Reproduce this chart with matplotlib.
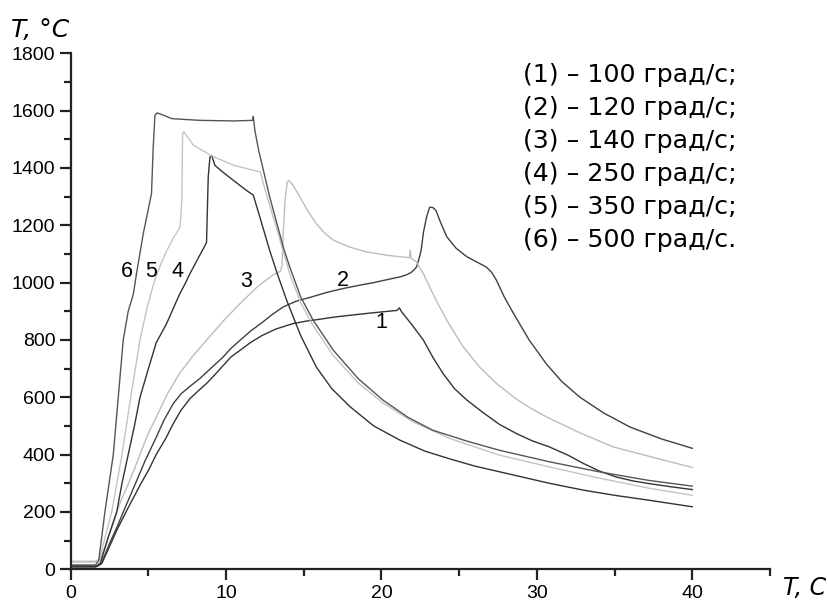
import matplotlib.pyplot as plt
from matplotlib.ticker import MultipleLocator

# curve data: time (s), temperature (deg C)
t1 = [0, 1.7, 2.0, 2.5, 3.0, 3.7, 4.5, 5.0, 5.5, 6.1, 6.6, 7.1, 7.67, 8.2, 8.74, 9.3, 9.8, 10.3, 10.9,
      11.6, 12.3, 13.2, 14.3, 15.2, 16.0, 17.0, 17.96, 19.5, 21.0, 21.15, 21.3, 22.0, 22.7, 23.3, 23.96,
      24.7, 25.5, 26.5, 27.6, 28.7, 29.7, 30.8, 32.0, 33.0, 34.0, 35.1, 36.2, 37.2, 38.6, 40.0]
T1 = [10, 10, 20, 80, 140, 215, 297, 345, 400, 455, 508, 555, 595, 622, 648, 680, 710, 740, 764,
      792, 815, 838, 857, 866, 872, 880, 886, 895, 903, 912, 898, 850, 799, 740, 683,
      630, 590, 548, 505, 473, 448, 427, 398, 369, 343, 322, 308, 299, 288, 278]

t2 = [0, 1.7, 2.0, 2.5, 3.0, 3.5, 4.15, 4.8, 5.5, 6.0, 6.6, 7.1, 7.6, 8.3, 9.0, 9.8, 10.3, 10.9, 11.6,
      12.3, 13.0, 13.67, 14.5, 15.5, 16.5, 17.5, 18.5, 19.5, 20.5, 21.2, 21.6, 21.9, 22.1, 22.25, 22.4,
      22.55, 22.7, 22.9, 23.1, 23.3, 23.5, 23.8, 24.2, 24.8, 25.5, 26.2, 26.75, 27.1, 27.4, 27.9, 28.5,
      29.5, 30.6, 31.6, 32.75, 34.3, 36.0, 38.0, 40.0]
T2 = [12, 12, 25, 90, 150, 215, 297, 380, 460, 520, 578, 612, 635, 665, 700, 740, 770, 799, 832,
      860, 890, 915, 935, 950, 966, 979, 990, 1000, 1012, 1020, 1027, 1035, 1045, 1054, 1080,
      1113, 1175, 1229, 1263, 1262, 1252, 1210, 1160, 1120, 1090, 1070, 1054, 1035, 1008, 950, 892,
      800, 717, 655, 601, 545, 496, 455, 422]

t3 = [0, 1.6, 1.9, 2.3, 2.8, 3.2, 3.7, 4.1, 4.6, 5.0, 5.5, 6.2, 7.0, 7.8, 8.74, 9.8, 10.9, 12.0, 13.0,
      13.5, 13.6, 13.67, 13.8, 13.93, 14.06, 14.3, 14.75, 15.2, 15.8, 16.3, 16.9, 17.9, 19.0, 20.4,
      21.8, 21.85, 21.9, 22.25, 22.7, 23.1, 23.6, 24.2, 25.2, 26.3, 27.4, 28.5, 29.5, 30.6, 32.8, 34.9,
      37.5, 40.0]
T3 = [28, 28, 35, 90, 170, 235, 297, 350, 420, 475, 530, 610, 683, 740, 799, 865, 927, 985, 1026,
      1040, 1060, 1171, 1290, 1351, 1356, 1340, 1299, 1255, 1206, 1175, 1148, 1125, 1107, 1095,
      1087, 1113, 1085, 1072, 1030, 985, 930, 869, 780, 706, 648, 601, 565, 532, 475, 427,
      390, 355]

t4 = [0, 1.6, 1.9, 2.4, 2.96, 3.3, 3.7, 4.1, 4.46, 5.0, 5.5, 5.8, 6.17, 6.6, 7.03, 7.4, 7.67, 8.2, 8.6,
      8.74, 8.85, 8.96, 9.07, 9.28, 9.8, 10.46, 11.3, 11.75, 12.17, 12.8, 13.3, 13.9, 14.8, 15.8, 16.8,
      18.0, 19.5, 21.2, 22.8, 24.4, 26.0, 27.6, 30.8, 33.0, 35.0, 37.2, 40.0]
T4 = [8, 8, 20, 110, 200, 300, 400, 500, 600, 700, 790, 820, 857, 910, 962, 1000, 1031, 1085, 1125,
      1140, 1369, 1438, 1444, 1409, 1385, 1357, 1322, 1305, 1229, 1113, 1030, 938, 815, 706, 630,
      566, 500, 450, 412, 385, 360, 340, 300, 276, 258, 241, 218]

t5 = [0, 1.6, 1.85, 2.2, 2.64, 3.3, 3.86, 4.46, 4.9, 5.36, 5.8, 6.17, 6.6, 7.04, 7.15, 7.2, 7.28, 7.9,
      9.0, 10.5, 12.2, 12.4, 12.8, 13.3, 14.1, 14.8, 15.6, 16.9, 18.5, 20.1, 22.0, 24.4, 27.6, 30.8,
      34.0, 37.2, 40.0]
T5 = [25, 25, 35, 110, 200, 400, 600, 800, 910, 1000, 1065, 1110, 1155, 1194, 1287, 1520, 1526, 1479,
      1444, 1409, 1386, 1345, 1270, 1180, 1030, 930, 850, 745, 650, 580, 515, 456, 398, 357,
      318, 283, 258]

t6 = [0, 1.6, 1.8, 2.2, 2.74, 3.06, 3.38, 3.7, 4.03, 4.26, 4.67, 5.2, 5.3, 5.42, 5.57, 5.96, 6.5, 8.3,
      10.5, 11.7, 11.75, 11.85, 12.1, 12.4, 12.8, 13.3, 13.7, 14.1, 14.8, 15.6, 16.9, 18.5, 20.1, 21.7,
      23.3, 25.5, 27.6, 30.8, 34.0, 37.2, 40.0]
T6 = [15, 15, 30, 200, 400, 600, 800, 900, 960, 1040, 1171, 1311, 1461, 1584, 1592, 1584, 1572, 1566,
      1564, 1566, 1580, 1531, 1460, 1392, 1300, 1200, 1120, 1054, 950, 869, 764, 665, 590, 530,
      485, 447, 415, 375, 340, 310, 290]

legend_lines = ['(1) – 100 град/с;', '(2) – 120 град/с;', '(3) – 140 град/с;',
                '(4) – 250 град/с;', '(5) – 350 град/с;', '(6) – 500 град/с.']

fig = plt.figure(figsize=(8.29, 6.04), dpi=100)
ax = fig.add_axes([0.0853, 0.0575, 0.8435, 0.8543])

lw = 1.0
ax.plot(t1, T1, color='#333333', lw=lw)
ax.plot(t2, T2, color='#404040', lw=lw)
ax.plot(t3, T3, color='#bdbdbd', lw=lw)
ax.plot(t4, T4, color='#333333', lw=lw)
ax.plot(t5, T5, color='#c4c4c4', lw=lw)
ax.plot(t6, T6, color='#555555', lw=lw)

# curve numbers
for lab, x, y in [('6', 3.6, 1037), ('5', 5.2, 1037), ('4', 6.9, 1037),
                  ('3', 11.3, 1003), ('2', 17.5, 1006), ('1', 20.0, 860)]:
    ax.text(x, y, lab, fontsize=15.5, family='Liberation Sans', ha='center', va='center')

ax.set_xlim(0, 45)
ax.set_ylim(0, 1800)
ax.xaxis.set_major_locator(MultipleLocator(10))
ax.xaxis.set_minor_locator(MultipleLocator(5))
ax.yaxis.set_major_locator(MultipleLocator(200))
ax.yaxis.set_minor_locator(MultipleLocator(100))
for s in ['top', 'right']:
    ax.spines[s].set_visible(False)
for s in ['left', 'bottom']:
    ax.spines[s].set_linewidth(1.6)
    ax.spines[s].set_color('#222222')
ax.tick_params(which='major', direction='out', length=8, width=1.6, color='#222222',
               labelsize=14, pad=3)
ax.tick_params(which='minor', direction='out', length=5, width=1.6, color='#222222')
for lbl in ax.get_xticklabels() + ax.get_yticklabels():
    lbl.set_family('Liberation Sans')

fig.text(0.013, 0.93, 'T, °C', fontsize=18, style='italic', family='DejaVu Sans', va='bottom')
fig.text(0.945, 0.006, 'T, C', fontsize=17, style='italic', family='DejaVu Sans', va='bottom')

for i, line in enumerate(legend_lines):
    fig.text(0.631, 0.876 - i * 0.0546, line, fontsize=18.2,
             family='DejaVu Sans', va='center')

plt.savefig('out.png', dpi=100)
